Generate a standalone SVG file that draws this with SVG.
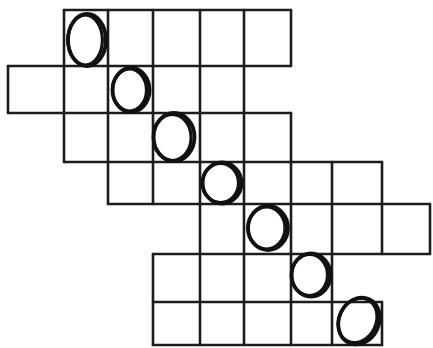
<svg xmlns="http://www.w3.org/2000/svg" width="433" height="348" viewBox="0 0 433 348">
<style>
.g{fill:none;stroke:#1c1c1c;stroke-width:2.6;stroke-linecap:round;stroke-linejoin:round}
.s{fill:none;stroke:#111;stroke-width:3.8}
.s2{fill:none;stroke:#111;stroke-width:3.2}
</style>
<rect width="433" height="348" fill="#fff"/>
<g id="grid">
<path class="g" d="M64 10H291M8 66H291M8 113H291M64 162H382M108 204H430M153 254H430M153 302H382M153 345H382"/>
<path class="g" d="M8 66V113M64 10V162M108 10V204M153 10V204M153 254V345M200 10V345M244 10V345M291 10V66M291 113V345M332 162V345M382 162V254M382 302V345M430 204V254"/>
</g>
<g id="stone-1"><ellipse class="s" cx="87" cy="40" rx="19" ry="26"/><ellipse class="s2" cx="85.2" cy="40" rx="17.2" ry="25"/></g>
<g id="stone-2"><ellipse class="s" cx="131" cy="90" rx="18.5" ry="22"/><ellipse class="s2" cx="129.5" cy="90" rx="17" ry="21"/></g>
<g id="stone-3"><ellipse class="s" cx="174" cy="137" rx="20.5" ry="24"/><ellipse class="s2" cx="172.3" cy="137.5" rx="18.8" ry="23"/></g>
<g id="stone-4"><ellipse class="s" cx="222" cy="183" rx="19.5" ry="20.5"/><ellipse class="s2" cx="220.5" cy="183" rx="18" ry="19.5"/></g>
<g id="stone-5"><ellipse class="s" cx="268" cy="228" rx="20" ry="22"/><ellipse class="s2" cx="266.5" cy="228" rx="18.5" ry="21"/></g>
<g id="stone-6"><ellipse class="s" cx="311" cy="275" rx="19.5" ry="21.5"/><ellipse class="s2" cx="309.5" cy="275" rx="18" ry="20.5"/></g>
<g id="stone-7"><ellipse class="s" cx="359" cy="321" rx="20" ry="24" transform="rotate(25 359 321)"/><ellipse class="s2" cx="357.5" cy="321" rx="18.5" ry="23" transform="rotate(25 359 321)"/></g>
</svg>
